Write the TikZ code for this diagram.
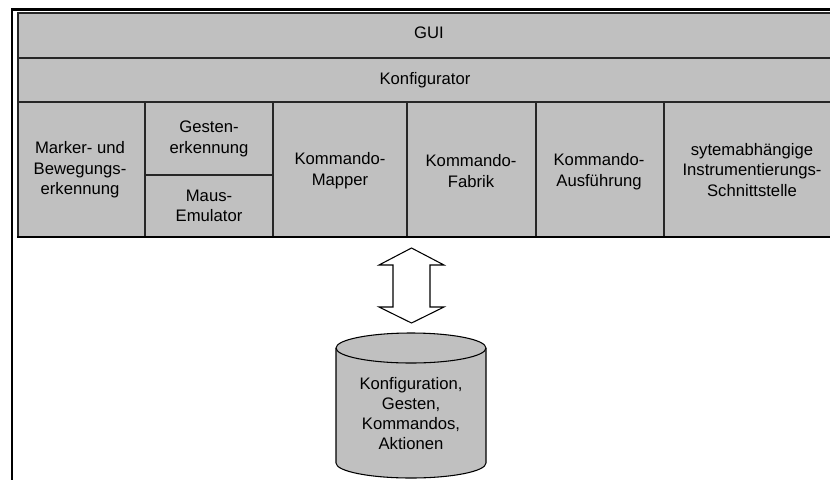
\documentclass[tikz,border=0pt]{standalone}
\usepackage{fontspec}
\setmainfont{Liberation Sans}
\usetikzlibrary{calc}
\definecolor{panelgray}{RGB}{192,192,192}
\begin{document}
\begin{tikzpicture}[x=0.75pt,y=-0.75pt,
  lbl/.style={font=\fontsize{12.5}{15.5}\selectfont, align=center, inner sep=0pt},
  divline/.style={draw=black!85, line width=1.2pt},
  outline/.style={draw=black, line width=0.8pt, line join=miter}
]
\useasboundingbox (0,0) rectangle (830,479);
\clip (0,0) rectangle (830,479);
\fill[white] (0,0) rectangle (830,479);
% outer frame
\draw[line width=2pt] (12,600) -- (12,9.5) -- (900,9.5);
% layered block
\fill[panelgray] (18,13) rectangle (845,237);
\draw[divline] (845,13) -- (18,13) -- (18,237);
\draw[divline] (18,58) -- (845,58);
\draw[divline] (18,102) -- (845,102);
\foreach \x in {145,273,407,536,664} \draw[divline] (\x,102) -- (\x,237);
\draw[divline] (145,175) -- (273,175);
\draw[line width=2.2pt] (17,237) -- (845,237);
% texts
\node[lbl] (gui) at (429,33) {GUI};
\node[lbl] (konf) at (425,80) {Konfigurator};
\node[lbl] (marker) at (80,170) {Marker- und\\Bewegungs-\\erkennung};
\node[lbl] (gesten) at (209,139) {Gesten-\\erkennung};
\node[lbl] (maus) at (209,206) {Maus-\\Emulator};
\node[lbl] (mapper) at (340,171) {Kommando-\\Mapper};
\node[lbl] (fabrik) at (471,171) {Kommando-\\Fabrik};
\node[lbl] (ausf) at (599,172) {Kommando-\\Ausführung};
\node[lbl] (instr) at (752,170) {sytemabhängige\\Instrumentierungs-\\Schnittstelle};
% double arrow
\coordinate (arrtop) at (411.5,248);
\coordinate (arrbot) at (411.5,323);
\draw[outline, fill=white] (arrtop) -- ++(32.5,17) -- ++(-14,0) -- ++(0,42) -- ++(14,0)
  -- (arrbot) -- ++(-32.5,-16) -- ++(14,0) -- ++(0,-42) -- ++(-14,0) -- cycle;
% cylinder
\draw[outline, fill=panelgray] (336,348) -- (336,463)
  arc[start angle=180, end angle=360, x radius=56.25pt, y radius=11.25pt]
  -- (486,348)
  arc[start angle=0, end angle=180, x radius=56.25pt, y radius=11.25pt] -- cycle;
\draw[outline] (336,348) arc[start angle=180, end angle=360, x radius=56.25pt, y radius=11.25pt];
\node[lbl, font=\fontsize{12.5}{15}\selectfont] (store) at (411,414) {Konfiguration,\\Gesten,\\Kommandos,\\Aktionen};
\end{tikzpicture}
\end{document}
